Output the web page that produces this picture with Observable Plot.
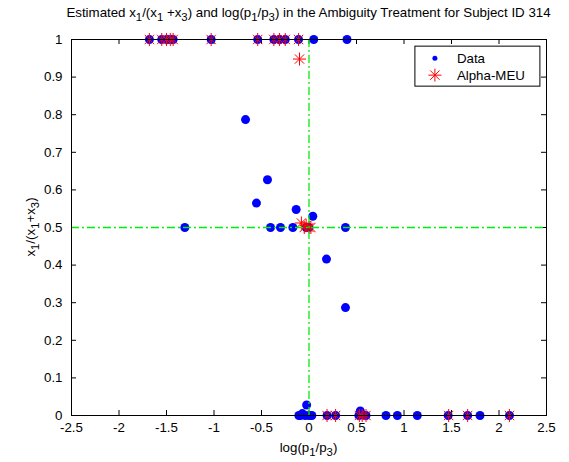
<!DOCTYPE html>
<html>
<head>
<meta charset="utf-8">
<script src="https://cdn.jsdelivr.net/npm/d3@7"></script>
<script src="https://cdn.jsdelivr.net/npm/@observablehq/plot@0.6"></script>
<style>
  body { margin: 0; background: #fff; }
  #chart svg { font-family: "Liberation Sans", Arial, sans-serif; }
</style>
</head>
<body>
<div id="chart"></div>
<script>
// ---- Data ----
const dataX = [
  -1.68, -1.55, -1.50, -1.46, -1.43, -1.03, -0.54, -0.37, -0.31, -0.25, -0.11, 0.05, 0.40,
  -0.668, -0.437, -0.553, -1.307, -0.405, -0.30, -0.17, -0.135, 0.04, 0.384, 0.184, 0.384, -0.03, 0.0,
  -0.107, -0.07, -0.025, -0.04, 0.0, 0.03, -0.09, 0.19, 0.28, 0.525, 0.54, 0.60, 0.81, 0.93, 1.14, 1.465, 1.67, 1.80, 2.11
];
const dataY = [
  1, 1, 1, 1, 1, 1, 1, 1, 1, 1, 1, 1, 1,
  0.787, 0.627, 0.565, 0.5, 0.5, 0.5, 0.5, 0.548, 0.53, 0.5, 0.416, 0.287, 0.5, 0.5,
  0, 0.005, 0.028, 0, 0, 0, 0, 0, 0, 0, 0.012, 0, 0, 0, 0, 0, 0, 0, 0
];
const meuX = [
  -1.68, -1.55, -1.50, -1.46, -1.43, -1.03, -0.54, -0.37, -0.31, -0.25, -0.11, -0.10,
  -0.08, -0.05, -0.03, 0.0, 0.02,
  0.19, 0.28, 0.53, 0.56, 0.60, 1.47, 1.67, 2.11
];
const meuY = [
  1, 1, 1, 1, 1, 1, 1, 1, 1, 1, 1, 0.948,
  0.512, 0.5, 0.505, 0.5, 0.5,
  0, 0, 0, 0, 0, 0, 0, 0
];
const xTicks = [-2.5, -2, -1.5, -1, -0.5, 0, 0.5, 1, 1.5, 2, 2.5];
const yTicks = [0, 0.1, 0.2, 0.3, 0.4, 0.5, 0.6, 0.7, 0.8, 0.9, 1];
const legendLabels = ["Data", "Alpha-MEU"];

const dataPts = dataX.map((x, i) => ({x, y: dataY[i]}));
const meuPts = meuX.map((x, i) => ({x, y: meuY[i]}));

// MATLAB-like "*" marker: a + and an x
const star = {
  draw(ctx, size) {
    const r = Math.sqrt(size / Math.PI);
    const d = r * 0.72;
    ctx.moveTo(-r, 0); ctx.lineTo(r, 0);
    ctx.moveTo(0, -r); ctx.lineTo(0, r);
    ctx.moveTo(-d, -d); ctx.lineTo(d, d);
    ctx.moveTo(-d, d); ctx.lineTo(d, -d);
  }
};

const W = 569, H = 462;
const mL = 71, mR = 23, mT = 39, mB = 47;
const tickLenX = 5 / (W - mL - mR) * 5;      // in x units
const tickLenY = 5 / (H - mT - mB);          // in y units
const green = "#00ee00";
const dash = "8,3,2,3";
const FS = 13.3;

const plot = Plot.plot({
  width: W, height: H,
  marginLeft: mL, marginRight: mR, marginTop: mT, marginBottom: mB,
  style: {fontFamily: "Liberation Sans, Arial, sans-serif", fontSize: FS + "px", color: "#000", background: "#fff"},
  x: {domain: [-2.5, 2.5]},
  y: {domain: [0, 1]},
  marks: [
    Plot.axisX(xTicks, {tickSize: 0, tickPadding: 7, tickFormat: d => String(d), label: null, fontSize: FS, fill: "#000"}),
    Plot.axisY(yTicks, {tickSize: 0, tickPadding: 9, tickFormat: d => String(d), label: null, fontSize: FS, fill: "#000"}),
    // inward ticks on all four sides
    Plot.ruleX(xTicks, {x: d => d, y1: 0, y2: tickLenY, stroke: "#000"}),
    Plot.ruleX(xTicks, {x: d => d, y1: 1, y2: 1 - tickLenY, stroke: "#000"}),
    Plot.ruleY(yTicks, {y: d => d, x1: -2.5, x2: -2.5 + tickLenX, stroke: "#000"}),
    Plot.ruleY(yTicks, {y: d => d, x1: 2.5, x2: 2.5 - tickLenX, stroke: "#000"}),
    Plot.dot(dataPts, {x: "x", y: "y", r: 4.5, fill: "#0000ff", stroke: "none"}),
    Plot.dot(meuPts, {x: "x", y: "y", r: 6.5, symbol: star, stroke: "#ff0000", strokeWidth: 1, fill: "none"}),
    Plot.ruleX([0], {stroke: green, strokeDasharray: dash, strokeWidth: 1.3}),
    Plot.ruleY([0.5], {stroke: green, strokeDasharray: dash, strokeWidth: 1.3}),
    Plot.frame({stroke: "#000", strokeWidth: 1})
  ]
});
document.getElementById("chart").appendChild(plot);

const svg = d3.select(plot);
const xs = plot.scale("x"), ys = plot.scale("y");

// Rich text with subscripts
function rich(g, parts, size) {
  let pending = 0;
  parts.forEach(([t, sub]) => {
    const ts = g.append("tspan");
    if (sub) {
      ts.attr("dy", 4 + pending).attr("font-size", size * 0.85);
      pending = -4;
    } else {
      if (pending) ts.attr("dy", pending);
      pending = 0;
    }
    ts.text(t);
  });
}

const cx = (xs.apply(-2.5) + xs.apply(2.5)) / 2;
const cy = (ys.apply(0) + ys.apply(1)) / 2;

// Title
const title = svg.append("text").attr("x", cx).attr("y", 17).attr("text-anchor", "middle")
  .attr("font-size", FS).attr("fill", "#000");
rich(title, [["Estimated x"], ["1", true], ["/(x"], ["1", true], [" +x"], ["3", true],
  [") and log(p"], ["1", true], ["/p"], ["3", true], [") in the Ambiguity Treatment for Subject ID 314"]], FS);

// X label
const xl = svg.append("text").attr("x", cx).attr("y", 452).attr("text-anchor", "middle")
  .attr("font-size", FS).attr("fill", "#000");
rich(xl, [["log(p"], ["1", true], ["/p"], ["3", true], [")"]], FS);

// Y label
const yl = svg.append("text").attr("transform", `translate(35,${cy}) rotate(-90)`).attr("text-anchor", "middle")
  .attr("font-size", FS).attr("fill", "#000");
rich(yl, [["x"], ["1", true], ["/(x"], ["1", true], ["+x"], ["3", true], [")"]], FS);

// Legend
const lg = svg.append("g");
const lx = xs.apply(1.12), ly = ys.apply(0.981), lw = 125, lh = 40;
lg.append("rect").attr("x", lx).attr("y", ly).attr("width", lw).attr("height", lh)
  .attr("fill", "#fff").attr("stroke", "#000");
lg.append("circle").attr("cx", lx + 20).attr("cy", ly + 12).attr("r", 2.5).attr("fill", "#0000ff");
lg.append("path").attr("transform", `translate(${lx + 20},${ly + 29})`)
  .attr("d", d3.symbol(star, Math.PI * 6.5 * 6.5)()).attr("stroke", "#ff0000").attr("fill", "none");
lg.append("text").attr("x", lx + 42).attr("y", ly + 17).attr("text-anchor", "start")
  .attr("font-size", FS).attr("fill", "#000").text(legendLabels[0]);
lg.append("text").attr("x", lx + 42).attr("y", ly + 34).attr("text-anchor", "start")
  .attr("font-size", FS).attr("fill", "#000").text(legendLabels[1]);
</script>
</body>
</html>
